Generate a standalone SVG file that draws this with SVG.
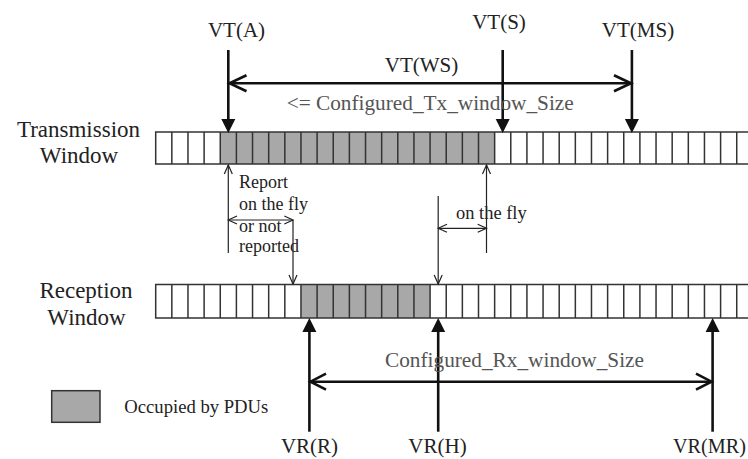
<svg xmlns="http://www.w3.org/2000/svg" width="748" height="459" viewBox="0 0 748 459">
<defs>
<style>
.lbl{font-family:"Liberation Serif","Times New Roman",serif;fill:#222;}
.big{font-size:21px;}
.row{font-size:23px;}
.small{font-size:18px;}
.gray{fill:#555;}
.grid{fill:none;stroke:#333;stroke-width:1.5;}
.occ{fill:#a8a8a8;stroke:none;}
.thick{stroke:#111;stroke-width:2.6;fill:none;}
.thin{stroke:#222;stroke-width:1.2;fill:none;}
.tri{fill:#111;}
</style>
</defs>
<rect width="748" height="459" fill="#fff"/>

<g id="tx-window">
<rect class="occ" x="220.26" y="132" width="274.38" height="32"/>
<path class="grid" d="M748,132H155.7V164H748 M171.84,132V164 M187.98,132V164 M204.12,132V164 M220.26,132V164 M236.4,132V164 M252.54,132V164 M268.68,132V164 M284.82,132V164 M300.96,132V164 M317.1,132V164 M333.24,132V164 M349.38,132V164 M365.52,132V164 M381.66,132V164 M397.8,132V164 M413.94,132V164 M430.08,132V164 M446.22,132V164 M462.36,132V164 M478.5,132V164 M494.64,132V164 M510.78,132V164 M526.92,132V164 M543.06,132V164 M559.2,132V164 M575.34,132V164 M591.48,132V164 M607.62,132V164 M623.76,132V164 M639.9,132V164 M656.04,132V164 M672.18,132V164 M688.32,132V164 M704.46,132V164 M720.6,132V164 M736.74,132V164"/>
<text class="lbl row" x="78.5" y="137" text-anchor="middle">Transmission</text>
<text class="lbl row" x="79" y="163" text-anchor="middle">Window</text>
</g>

<g id="rx-window">
<rect class="occ" x="300.96" y="284.5" width="129.12" height="33.5"/>
<path class="grid" d="M748,284.5H155.7V318H748 M171.84,284.5V318 M187.98,284.5V318 M204.12,284.5V318 M220.26,284.5V318 M236.4,284.5V318 M252.54,284.5V318 M268.68,284.5V318 M284.82,284.5V318 M300.96,284.5V318 M317.1,284.5V318 M333.24,284.5V318 M349.38,284.5V318 M365.52,284.5V318 M381.66,284.5V318 M397.8,284.5V318 M413.94,284.5V318 M430.08,284.5V318 M446.22,284.5V318 M462.36,284.5V318 M478.5,284.5V318 M494.64,284.5V318 M510.78,284.5V318 M526.92,284.5V318 M543.06,284.5V318 M559.2,284.5V318 M575.34,284.5V318 M591.48,284.5V318 M607.62,284.5V318 M623.76,284.5V318 M639.9,284.5V318 M656.04,284.5V318 M672.18,284.5V318 M688.32,284.5V318 M704.46,284.5V318 M720.6,284.5V318 M736.74,284.5V318"/>
<text class="lbl row" x="86" y="298" text-anchor="middle">Reception</text>
<text class="lbl row" x="86.5" y="325" text-anchor="middle">Window</text>
</g>

<g id="legend">
<rect x="51.7" y="390.7" width="48.3" height="31.6" fill="#a8a8a8" stroke="#333" stroke-width="1.5"/>
<text class="lbl small" x="124.3" y="413" textLength="144" lengthAdjust="spacingAndGlyphs">Occupied by PDUs</text>
</g>

<g id="connectors">
<!-- VT(A) -->
<line class="thick" x1="228.3" y1="50" x2="228.3" y2="120"/>
<polygon class="tri" points="221.3,119 235.3,119 228.3,133"/>
<!-- VT(S) -->
<line class="thick" x1="502.7" y1="50" x2="502.7" y2="120"/>
<polygon class="tri" points="495.7,119 509.7,119 502.7,133"/>
<!-- VT(MS) -->
<line class="thick" x1="631.9" y1="50" x2="631.9" y2="120"/>
<polygon class="tri" points="624.9,119 638.9,119 631.9,133"/>
<!-- VT(WS) -->
<line class="thick" x1="229.5" y1="83.3" x2="630.5" y2="83.3"/>
<polyline class="thick" points="246.5,75.3 229.5,83.3 246.5,91.3"/>
<polyline class="thick" points="614,75.3 631,83.3 614,91.3"/>
<!-- report on the fly arrows -->
<line class="thin" x1="228.3" y1="165" x2="228.3" y2="253"/>
<polyline class="thin" points="224.3,174 228.3,165 232.3,174"/>
<line class="thin" x1="293" y1="220" x2="293" y2="284"/>
<polyline class="thin" points="289,275 293,284 297,275"/>
<line class="thin" x1="228.3" y1="220" x2="293" y2="220"/>
<polyline class="thin" points="237,216 228.3,220 237,224"/>
<polyline class="thin" points="284.3,216 293,220 284.3,224"/>
<!-- on the fly arrows -->
<line class="thin" x1="486.5" y1="165" x2="486.5" y2="253"/>
<polyline class="thin" points="482.5,174 486.5,165 490.5,174"/>
<line class="thin" x1="438.2" y1="196" x2="438.2" y2="284"/>
<polyline class="thin" points="434.2,275 438.2,284 442.2,275"/>
<line class="thin" x1="438.2" y1="228.3" x2="486.5" y2="228.3"/>
<polyline class="thin" points="447,224.3 438.2,228.3 447,232.3"/>
<polyline class="thin" points="477.7,224.3 486.5,228.3 477.7,232.3"/>
<!-- VR(R) -->
<line class="thick" x1="309.4" y1="431.7" x2="309.4" y2="331"/>
<polygon class="tri" points="302.4,332 316.4,332 309.4,318"/>
<!-- VR(H) -->
<line class="thick" x1="438.2" y1="431.7" x2="438.2" y2="331"/>
<polygon class="tri" points="431.2,332 445.2,332 438.2,318"/>
<!-- VR(MR) -->
<line class="thick" x1="712.6" y1="431.7" x2="712.6" y2="331"/>
<polygon class="tri" points="705.6,332 719.6,332 712.6,318"/>
<!-- Rx window size -->
<line class="thick" x1="310.5" y1="381.7" x2="711.5" y2="381.7"/>
<polyline class="thick" points="326,373.7 310.5,381.7 326,389.7"/>
<polyline class="thick" points="696,373.7 711.5,381.7 696,389.7"/>
</g>

<g id="labels">
<text class="lbl big" x="236.5" y="37" text-anchor="middle">VT(A)</text>
<text class="lbl big" x="499" y="29" text-anchor="middle">VT(S)</text>
<text class="lbl big" x="638" y="36.5" text-anchor="middle">VT(MS)</text>
<text class="lbl big" x="421.5" y="71.5" text-anchor="middle">VT(WS)</text>
<text class="lbl big gray" x="286.7" y="110" textLength="287" lengthAdjust="spacingAndGlyphs">&lt;= Configured_Tx_window_Size</text>
<text class="lbl small" x="239" y="188">Report</text>
<text class="lbl small" x="239" y="209.5">on the fly</text>
<text class="lbl small" x="239" y="231.5">or not</text>
<text class="lbl small" x="239" y="252">reported</text>
<text class="lbl small" x="456" y="219" textLength="70.7" lengthAdjust="spacingAndGlyphs">on the fly</text>
<text class="lbl big gray" x="385" y="366.7" textLength="259" lengthAdjust="spacingAndGlyphs">Configured_Rx_window_Size</text>
<text class="lbl big" x="309.5" y="452.5" text-anchor="middle">VR(R)</text>
<text class="lbl big" x="437.5" y="452.5" text-anchor="middle">VR(H)</text>
<text class="lbl big" x="673" y="452.5" textLength="73" lengthAdjust="spacingAndGlyphs">VR(MR)</text>
</g>
</svg>
